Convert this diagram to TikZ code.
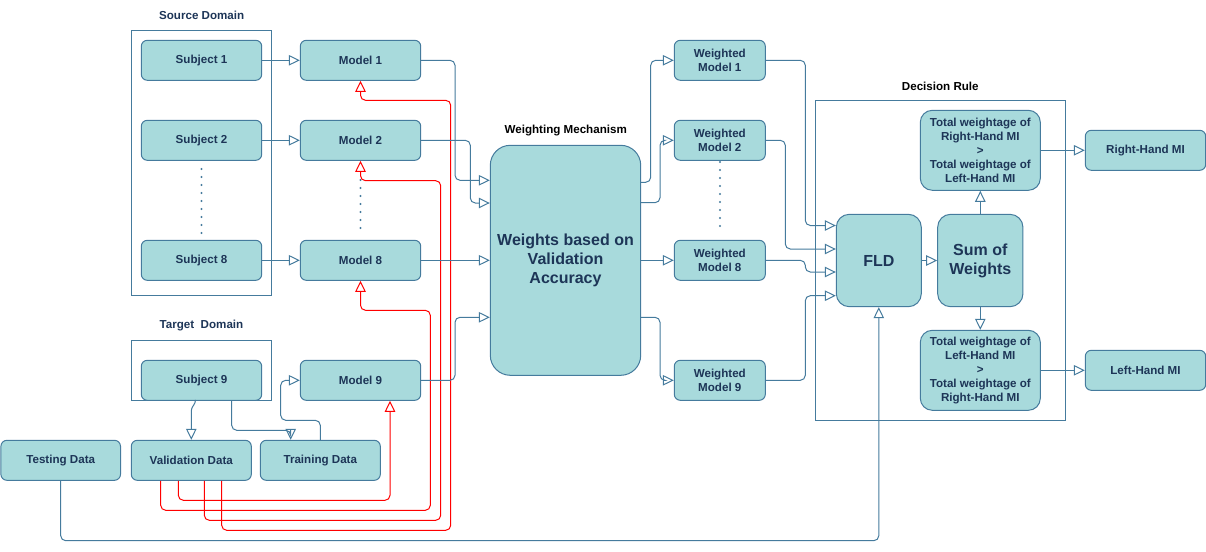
\documentclass[tikz,border=0pt]{standalone}
\usepackage{fontspec}
\setmainfont{Liberation Sans}
\usetikzlibrary{arrows.meta}
\definecolor{fillc}{HTML}{A8DADC}
\definecolor{strokec}{HTML}{457B9D}
\definecolor{textc}{HTML}{1D3557}
\tikzset{
  box/.style={draw=strokec, fill=fillc, line width=1pt, rounded corners=6pt, text=textc, align=center,
    inner sep=1pt, font=\fontsize{11.6}{14}\selectfont\bfseries},
  bigbox/.style={box, font=\fontsize{16}{19}\selectfont\bfseries},
  frame/.style={draw=strokec, line width=1pt, inner sep=0pt},
  title/.style={font=\fontsize{11.6}{14}\selectfont\bfseries, inner sep=0pt},
  conn/.style={draw=strokec, line width=1pt, rounded corners=5pt, -{Triangle[open,length=11pt,width=10.5pt]}},
  redconn/.style={draw=red, line width=1pt, rounded corners=5pt, -{Triangle[open,length=11pt,width=10.5pt]}},
  dotline/.style={draw=strokec, line width=2.2pt, line cap=round, dash pattern=on 0pt off 8pt},
}
\begin{document}
\begin{tikzpicture}[x=1pt,y=-1pt]
\useasboundingbox (0,0) rectangle (1206,551);
% frames
\node[frame, minimum width=140.4pt, minimum height=265pt] (srcframe) at (201.5,162.8) {};
\node[frame, minimum width=140.4pt, minimum height=60pt] (tgtframe) at (201.5,370.3) {};
\node[frame, minimum width=250.4pt, minimum height=320pt] (decframe) at (940.5,260.3) {};
% titles
\node[title, text=textc] (srclabel) at (201.7,15.7) {Source Domain};
\node[title, text=textc] (tgtlabel) at (201.5,325.7) {Target\ \ Domain};
\node[title, text=black] (wlabel) at (565.7,130.3) {Weighting Mechanism};
\node[title, text=black] (dlabel) at (940.3,86.3) {Decision Rule};
% subjects
\node[box, minimum width=120.4pt, minimum height=40pt] (s1) at (201.5,60.3) {Subject 1};
\node[box, minimum width=120.4pt, minimum height=40pt] (s2) at (201.5,140.3) {Subject 2};
\node[box, minimum width=120.4pt, minimum height=40pt] (s8) at (201.5,260.3) {Subject 8};
\node[box, minimum width=120.4pt, minimum height=40pt] (s9) at (201.5,380.3) {Subject 9};
% models
\node[box, minimum width=120.4pt, minimum height=40pt] (m1) at (360.5,60.3) {Model 1};
\node[box, minimum width=120.4pt, minimum height=40pt] (m2) at (360.5,140.3) {Model 2};
\node[box, minimum width=120.4pt, minimum height=40pt] (m8) at (360.5,260.3) {Model 8};
\node[box, minimum width=120.4pt, minimum height=40pt] (m9) at (360.5,380.3) {Model 9};
% data
\node[box, minimum width=119.6pt, minimum height=40pt] (test) at (60.7,460.3) {Testing Data};
\node[box, minimum width=120pt, minimum height=40pt] (val) at (191.3,460.3) {Validation Data};
\node[box, minimum width=120pt, minimum height=40pt] (train) at (320.3,460.3) {Training Data};
% weighting
\node[bigbox, rounded corners=20pt, minimum width=150.4pt, minimum height=230pt] (W) at (565.5,260.3) {Weights based on\\Validation\\Accuracy};
% weighted models
\node[box, minimum width=91pt, minimum height=40pt] (wm1) at (719.8,60.3) {Weighted\\Model 1};
\node[box, minimum width=91pt, minimum height=40pt] (wm2) at (719.8,140.3) {Weighted\\Model 2};
\node[box, minimum width=91pt, minimum height=40pt] (wm8) at (719.8,260.3) {Weighted\\Model 8};
\node[box, minimum width=91pt, minimum height=40pt] (wm9) at (719.8,380.3) {Weighted\\Model 9};
% decision
\node[bigbox, rounded corners=13pt, minimum width=85pt, minimum height=92.4pt] (fld) at (878.8,260.5) {FLD};
\node[bigbox, rounded corners=13pt, minimum width=85.3pt, minimum height=92.4pt] (sum) at (980.3,260.5) {Sum of\\Weights};
\node[box, rounded corners=12pt, minimum width=120pt, minimum height=80pt] (top) at (980.3,150.3) {Total weightage of\\Right-Hand MI\\>\\Total weightage of\\Left-Hand MI};
\node[box, rounded corners=12pt, minimum width=120pt, minimum height=80pt] (bot) at (980.3,370.3) {Total weightage of\\Left-Hand MI\\>\\Total weightage of\\Right-Hand MI};
\node[box, minimum width=120.4pt, minimum height=40pt] (rh) at (1145.5,150.3) {Right-Hand MI};
\node[box, minimum width=120.4pt, minimum height=40pt] (lh) at (1145.5,370.3) {Left-Hand MI};
% dotted
\draw[dotline] (201.5,169) -- (201.5,233);
\draw[dotline] (360.5,180) -- (360.5,233);
\draw[dotline] (720,162) -- (720,233);
% red connectors
\draw[redconn] (val.south -| 178.3,0) |- (390,500.3) -- (m9.south -| 390,0);
\draw[redconn] (val.south -| 160.7,0) |- (430.3,510.3) |- (360.5,310.3) -- (m8.south);
\draw[redconn] (val.south -| 204.3,0) |- (440.7,520.3) |- (360.5,180.7) -- (m2.south);
\draw[redconn] (val.south -| 221.7,0) |- (450.7,530.3) |- (360.5,100.3) -- (m1.south);
% subject -> model
\draw[conn] (s1.east) -- (m1.west);
\draw[conn] (s2.east) -- (m2.west);
\draw[conn] (s8.east) -- (m8.west);
% model -> W
\draw[conn] (m1.east) -| (455,180.3) -- (W.west |- 0,180.3);
\draw[conn] (m2.east) -| (470.3,203) -- (W.west |- 0,203);
\draw[conn] (m8.east) -- (W.west);
\draw[conn] (m9.east) -| (455,317.3) -- (W.west |- 0,317.3);
% W -> weighted
\draw[conn] (W.east |- 0,182.3) -| (650.7,60.3) -- (wm1.west);
\draw[conn] (W.east |- 0,202.7) -| (660,140.3) -- (wm2.west);
\draw[conn] (W.east) -- (wm8.west);
\draw[conn] (W.east |- 0,317.3) -| (660,380.3) -- (wm9.west);
% weighted -> FLD
\draw[conn] (wm1.east) -| (805.3,225.5) -- (fld.west |- 0,225.5);
\draw[conn] (wm2.east) -| (785.3,249) -- (fld.west |- 0,249);
\draw[conn] (wm8.east) -| (805.3,272) -- (fld.west |- 0,272);
\draw[conn] (wm9.east) -| (805.3,295.7) -- (fld.west |- 0,295.7);
% decision
\draw[conn] (fld.east) -- (sum.west);
\draw[conn] (sum.north) -- (top.south);
\draw[conn] (sum.south) -- (bot.north);
\draw[conn] (top.east) -- (rh.west);
\draw[conn] (bot.east) -- (lh.west);
% target domain
\draw[conn, rounded corners=3pt] (s9.south -| 195.5,0) -- (195.5,403) -- (191.3,408) -- (val.north);
\draw[conn] (s9.south -| 231.7,0) |- (290.7,430.3) -- (train.north -| 290.7,0);
\draw[conn] (train.north) |- (280.7,420.3) |- (m9.west);
\draw[conn] (test.south) |- (878.8,540.7) -- (fld.south);
\end{tikzpicture}
\end{document}
